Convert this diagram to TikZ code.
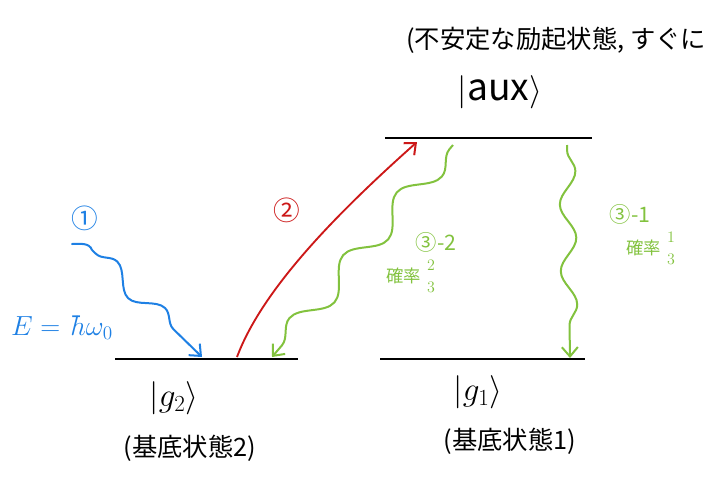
\documentclass[tikz,border=0pt]{standalone}
\usepackage{fontspec}
\usepackage{amsmath}
\setmainfont{Noto Sans CJK JP}
\newfontfamily\jp{Noto Sans CJK JP}
\usetikzlibrary{decorations.pathmorphing,arrows.meta}
\definecolor{hblue}{RGB}{30,128,228}
\definecolor{hred}{RGB}{204,24,24}
\definecolor{hgreen}{RGB}{130,194,62}
\tikzset{
  level/.style={line width=1.4pt,black},
  wave/.style 2 args={line width=1.5pt,decorate,decoration={snake,amplitude=#1,segment length=#2,pre length=4,post length=6}},
  tip/.style={-{Straight Barb[length=7pt,width=12pt,line width=1.5pt]}},
  lbl/.style={inner sep=0pt,font=\jp},
}
\begin{document}
\begin{tikzpicture}[x=0.75pt,y=-0.75pt]
\useasboundingbox (0,0) rectangle (708,476);
\clip (0,0) rectangle (708,476);
% levels
\coordinate (auxL) at (385,138); \coordinate (auxR) at (592,138);
\coordinate (g2L) at (115,359); \coordinate (g2R) at (298,359);
\coordinate (g1L) at (380,359); \coordinate (g1R) at (585,359);
\draw[level] (auxL) -- (auxR);
\draw[level] (g2L) -- (g2R);
\draw[level] (g1L) -- (g1R);
% state labels
\node[lbl,anchor=west,font=\jp\fontsize{19}{21}\selectfont] (note) at (406,40) {(不安定な励起状態, すぐに};
\node[lbl,font=\fontsize{28}{30}\selectfont] (aux) at (500,92) {$|\mathrm{aux}\rangle$};
\node[lbl,font=\fontsize{26}{28}\selectfont] (g2) at (174,398) {$|g_2\rangle$};
\node[lbl,font=\fontsize{26}{28}\selectfont] (g1) at (478,392) {$|g_1\rangle$};
\node[lbl,font=\jp\fontsize{19}{22}\selectfont] (gs2) at (190,448) {(基底状態2)};
\node[lbl,font=\jp\fontsize{19}{22}\selectfont] (gs1) at (510,441) {(基底状態1)};
% 1: blue photon
\coordinate (b0) at (72,244);
\coordinate (b1) at (92,250);
\coordinate (b2) at (202,357);
\draw[hblue,line width=1.5pt,line cap=round] (b0) to[out=0,in=110] (b1);
\draw[hblue,wave={7}{50},tip] (b1) -- (b2);
\node[lbl,hblue,font=\jp\fontsize{20}{22}\selectfont] (n1) at (85,218) {①};
\node[lbl,hblue,font=\fontsize{20}{22}\selectfont] (E) at (62,328) {$E=\hbar\omega_0$};
% 2: red excitation
\coordinate (r0) at (237,357);
\coordinate (r1) at (417,142);
\draw[hred,line width=1.4pt,tip] (r0) .. controls (262,290) and (335,215) .. (r1);
\node[lbl,hred,font=\jp\fontsize{20}{22}\selectfont] (n2) at (287,210) {②};
% 3-2 green decay to g2
\coordinate (ga0) at (453,145);
\coordinate (ga1) at (272,357);
\draw[hgreen,wave={9}{62},tip] (ga0) -- (ga1);
\node[lbl,hgreen,font=\jp\fontsize{16}{18}\selectfont] (n32) at (436,242) {③-2};
\node[lbl,hgreen,font=\jp\fontsize{13}{15}\selectfont,anchor=west] (p32) at (386,276) {確率};
\node[lbl,hgreen,font=\fontsize{12}{14}\selectfont,anchor=west] (f32) at ([xshift=3pt]p32.east) {$\genfrac{}{}{0pt}{0}{2}{3}$};
% 3-1 green decay to g1
\coordinate (gb0) at (567,145);
\coordinate (gb1) at (570,358);
\draw[hgreen,wave={6}{50},tip] (gb0) -- (gb1);
\node[lbl,hgreen,font=\jp\fontsize{16}{18}\selectfont] (n31) at (630,214) {③-1};
\node[lbl,hgreen,font=\jp\fontsize{13}{15}\selectfont,anchor=west] (p31) at (626,248) {確率};
\node[lbl,hgreen,font=\fontsize{12}{14}\selectfont,anchor=west] (f31) at ([xshift=3pt]p31.east) {$\genfrac{}{}{0pt}{0}{1}{3}$};
\end{tikzpicture}
\end{document}
